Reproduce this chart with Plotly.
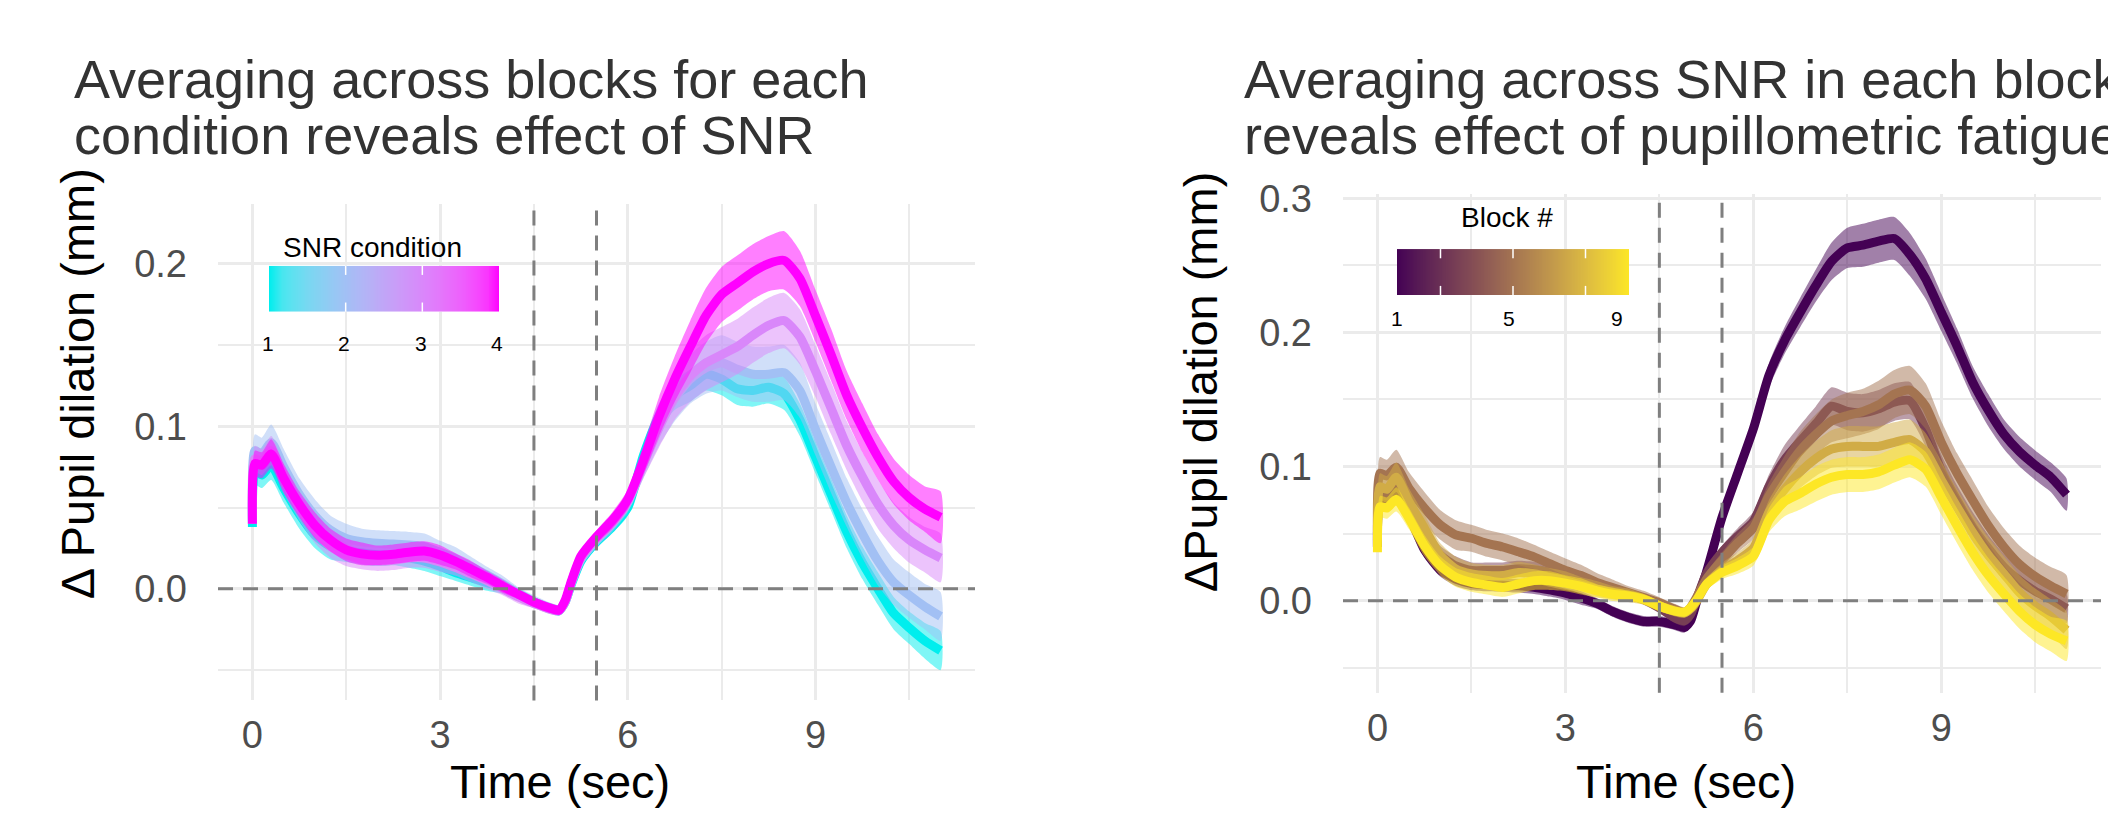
import numpy as np
import plotly.graph_objects as go

# ---------------- data ----------------
T = [0, 0.04, 0.15, 0.3, 0.5, 0.75, 1.0, 1.25, 1.5, 1.75, 2.0, 2.25, 2.5, 2.75, 3.0,
     3.25, 3.5, 3.75, 4.0, 4.25, 4.5, 4.75, 4.9, 5.0, 5.1, 5.25, 5.5, 5.75, 6.0, 6.25,
     6.5, 6.75, 7.0, 7.25, 7.5, 7.75, 8.0, 8.25, 8.5, 8.75, 9.0, 9.25, 9.5, 9.75, 10.0,
     10.25, 10.5, 10.75, 11.0]

# Left panel: SNR conditions (mean and half-width of ribbon)
snr_conditions = [1, 2, 3, 4]
snr1_mean = [0.038, 0.072, 0.070, 0.076, 0.062, 0.046, 0.033, 0.026, 0.0235, 0.022, 0.021, 0.0205, 0.019, 0.017, 0.0138,
             0.0098, 0.0068, 0.0038, 0.001, -0.0035, -0.008, -0.012, -0.0135, -0.008, 0.003, 0.017, 0.029, 0.038, 0.050, 0.082,
             0.106, 0.119, 0.125, 0.132, 0.129, 0.123, 0.122, 0.124, 0.120, 0.104, 0.081, 0.058, 0.035, 0.016, 0.000,
             -0.015, -0.024, -0.032, -0.038]
snr2_mean = [0.042, 0.085, 0.083, 0.090, 0.075, 0.058, 0.045, 0.036, 0.031, 0.029, 0.028, 0.0275, 0.027, 0.026, 0.0225,
             0.0185, 0.0135, 0.0085, 0.003, -0.003, -0.008, -0.0115, -0.013, -0.008, 0.004, 0.018, 0.030, 0.040, 0.053, 0.077,
             0.100, 0.117, 0.129, 0.136, 0.139, 0.135, 0.132, 0.132, 0.133, 0.122, 0.098, 0.075, 0.053, 0.034, 0.017,
             0.004, -0.004, -0.011, -0.017]
snr3_mean = [0.040, 0.080, 0.078, 0.085, 0.068, 0.050, 0.036, 0.026, 0.021, 0.018, 0.017, 0.0175, 0.019, 0.019, 0.0165,
             0.013, 0.009, 0.005, 0.000, -0.005, -0.009, -0.0125, -0.0135, -0.008, 0.004, 0.019, 0.031, 0.041, 0.054, 0.077,
             0.099, 0.118, 0.131, 0.139, 0.144, 0.149, 0.156, 0.162, 0.165, 0.155, 0.134, 0.111, 0.088, 0.069, 0.052,
             0.039, 0.030, 0.024, 0.019]
snr4_mean = [0.040, 0.077, 0.076, 0.083, 0.068, 0.052, 0.039, 0.030, 0.024, 0.0215, 0.0206, 0.0213, 0.0225, 0.0232, 0.0208,
             0.0168, 0.012, 0.0071, 0.0016, -0.0033, -0.0082, -0.0118, -0.0132, -0.007, 0.005, 0.020, 0.032, 0.042, 0.055, 0.079,
             0.106, 0.129, 0.149, 0.168, 0.181, 0.188, 0.195, 0.200, 0.202, 0.191, 0.168, 0.144, 0.119, 0.099, 0.081,
             0.066, 0.056, 0.049, 0.044]
snr1_se = [0.004, 0.008, 0.008, 0.009, 0.009, 0.009, 0.008, 0.008, 0.007, 0.007, 0.007, 0.006, 0.006, 0.006, 0.006,
           0.005, 0.005, 0.005, 0.004, 0.004, 0.003, 0.003, 0.003, 0.003, 0.003, 0.003, 0.004, 0.004, 0.005, 0.006,
           0.008, 0.009, 0.010, 0.010, 0.010, 0.010, 0.010, 0.010, 0.010, 0.010, 0.010, 0.010, 0.010, 0.010, 0.010,
           0.010, 0.010, 0.011, 0.012]
snr2_se = [0.005, 0.010, 0.010, 0.011, 0.011, 0.010, 0.010, 0.009, 0.009, 0.008, 0.008, 0.008, 0.008, 0.008, 0.007,
           0.007, 0.006, 0.005, 0.005, 0.004, 0.004, 0.003, 0.003, 0.003, 0.003, 0.003, 0.004, 0.005, 0.006, 0.009,
           0.012, 0.014, 0.015, 0.016, 0.017, 0.017, 0.017, 0.017, 0.017, 0.017, 0.016, 0.016, 0.015, 0.015, 0.015,
           0.014, 0.014, 0.014, 0.015]
snr3_se = [0.005, 0.008, 0.008, 0.009, 0.009, 0.008, 0.008, 0.007, 0.007, 0.006, 0.006, 0.006, 0.006, 0.006, 0.006,
           0.005, 0.005, 0.005, 0.004, 0.004, 0.003, 0.003, 0.003, 0.003, 0.003, 0.003, 0.004, 0.005, 0.006, 0.009,
           0.012, 0.014, 0.016, 0.017, 0.017, 0.017, 0.017, 0.017, 0.017, 0.017, 0.016, 0.016, 0.015, 0.015, 0.015,
           0.014, 0.014, 0.014, 0.015]
snr4_se = [0.005, 0.008, 0.008, 0.009, 0.009, 0.008, 0.008, 0.007, 0.007, 0.007, 0.006, 0.006, 0.006, 0.006, 0.006,
           0.005, 0.005, 0.004, 0.004, 0.003, 0.003, 0.003, 0.003, 0.003, 0.003, 0.003, 0.004, 0.005, 0.006, 0.009,
           0.012, 0.014, 0.016, 0.017, 0.017, 0.017, 0.017, 0.017, 0.018, 0.017, 0.016, 0.016, 0.015, 0.015, 0.014,
           0.014, 0.014, 0.014, 0.016]

# Right panel: blocks
blocks = [1, 3, 5, 7, 9]
blk1_mean = [0.040, 0.075, 0.074, 0.080, 0.064, 0.038, 0.023, 0.016, 0.0128, 0.012, 0.0115, 0.011, 0.010, 0.008, 0.0055,
             0.002, -0.002, -0.008, -0.0125, -0.0155, -0.0155, -0.018, -0.020, -0.015, 0.000, 0.021, 0.062, 0.095, 0.128, 0.168,
             0.194, 0.215, 0.235, 0.253, 0.263, 0.265, 0.268, 0.270, 0.258, 0.240, 0.215, 0.190, 0.163, 0.142, 0.124,
             0.111, 0.101, 0.092, 0.079]
blk3_mean = [0.040, 0.080, 0.078, 0.083, 0.069, 0.049, 0.034, 0.026, 0.0225, 0.0225, 0.0225, 0.0237, 0.023, 0.021, 0.0174,
             0.0136, 0.0098, 0.0073, 0.0048, 0.001, -0.0053, -0.0129, -0.015, -0.010, 0.002, 0.020, 0.036, 0.048, 0.059, 0.085,
             0.105, 0.119, 0.132, 0.145, 0.141, 0.140, 0.143, 0.148, 0.149, 0.128, 0.097, 0.075, 0.055, 0.039, 0.025,
             0.015, 0.007, 0.001, -0.006]
blk5_mean = [0.050, 0.095, 0.093, 0.0995, 0.084, 0.069, 0.0566, 0.049, 0.0465, 0.0427, 0.040, 0.0364, 0.0326, 0.0275, 0.0225,
             0.0187, 0.0136, 0.0098, 0.006, 0.0023, -0.0015, -0.0066, -0.009, -0.005, 0.003, 0.016, 0.030, 0.043, 0.054, 0.078,
             0.096, 0.112, 0.124, 0.134, 0.138, 0.141, 0.146, 0.154, 0.157, 0.145, 0.118, 0.095, 0.075, 0.056, 0.040,
             0.027, 0.018, 0.011, 0.005]
blk7_mean = [0.045, 0.085, 0.083, 0.092, 0.074, 0.054, 0.034, 0.0237, 0.020, 0.0187, 0.0187, 0.021, 0.020, 0.0174, 0.0149,
             0.0116, 0.0086, 0.006, 0.004, 0.001, -0.004, -0.0078, -0.009, -0.006, 0.000, 0.012, 0.023, 0.030, 0.039, 0.066,
             0.083, 0.096, 0.106, 0.113, 0.115, 0.115, 0.115, 0.118, 0.120, 0.111, 0.090, 0.070, 0.051, 0.034, 0.020,
             0.006, -0.004, -0.012, -0.022]
blk9_mean = [0.036, 0.070, 0.069, 0.0755, 0.0616, 0.041, 0.026, 0.0174, 0.0136, 0.0116, 0.0098, 0.0124, 0.0149, 0.0149, 0.013,
             0.0106, 0.0073, 0.0048, 0.0035, 0.001, -0.004, -0.0078, -0.0086, -0.005, 0.001, 0.012, 0.021, 0.026, 0.033, 0.060,
             0.074, 0.080, 0.087, 0.092, 0.094, 0.094, 0.096, 0.101, 0.105, 0.098, 0.077, 0.056, 0.036, 0.019, 0.005,
             -0.008, -0.018, -0.025, -0.030]
blk1_se = [0.004, 0.006, 0.006, 0.007, 0.006, 0.006, 0.005, 0.005, 0.005, 0.005, 0.005, 0.005, 0.005, 0.005, 0.005,
           0.005, 0.004, 0.004, 0.004, 0.004, 0.004, 0.004, 0.004, 0.004, 0.004, 0.005, 0.006, 0.007, 0.008, 0.009,
           0.010, 0.011, 0.012, 0.014, 0.015, 0.016, 0.016, 0.016, 0.016, 0.015, 0.014, 0.013, 0.012, 0.012, 0.011,
           0.011, 0.011, 0.011, 0.012]
blk3_se = [0.004, 0.008, 0.008, 0.009, 0.008, 0.008, 0.007, 0.007, 0.006, 0.006, 0.006, 0.006, 0.006, 0.006, 0.005,
           0.005, 0.005, 0.004, 0.004, 0.004, 0.004, 0.004, 0.004, 0.004, 0.004, 0.004, 0.005, 0.006, 0.007, 0.009,
           0.011, 0.012, 0.013, 0.014, 0.014, 0.014, 0.014, 0.014, 0.014, 0.013, 0.012, 0.011, 0.011, 0.010, 0.010,
           0.010, 0.010, 0.010, 0.011]
blk5_se = [0.006, 0.012, 0.012, 0.013, 0.012, 0.012, 0.011, 0.011, 0.010, 0.010, 0.010, 0.010, 0.009, 0.009, 0.009,
           0.008, 0.007, 0.006, 0.005, 0.005, 0.004, 0.004, 0.004, 0.004, 0.004, 0.005, 0.006, 0.007, 0.008, 0.010,
           0.012, 0.014, 0.015, 0.016, 0.017, 0.017, 0.018, 0.018, 0.018, 0.017, 0.016, 0.015, 0.015, 0.014, 0.014,
           0.014, 0.014, 0.014, 0.014]
blk7_se = [0.005, 0.010, 0.010, 0.011, 0.010, 0.010, 0.009, 0.009, 0.008, 0.008, 0.008, 0.008, 0.007, 0.007, 0.007,
           0.006, 0.006, 0.005, 0.005, 0.004, 0.004, 0.004, 0.004, 0.004, 0.004, 0.004, 0.005, 0.006, 0.007, 0.009,
           0.011, 0.012, 0.013, 0.014, 0.015, 0.015, 0.015, 0.015, 0.015, 0.014, 0.014, 0.013, 0.013, 0.013, 0.013,
           0.013, 0.013, 0.013, 0.014]
blk9_se = [0.004, 0.008, 0.008, 0.009, 0.008, 0.008, 0.007, 0.007, 0.007, 0.007, 0.007, 0.007, 0.007, 0.007, 0.006,
           0.006, 0.005, 0.005, 0.004, 0.004, 0.004, 0.003, 0.003, 0.003, 0.003, 0.004, 0.005, 0.006, 0.007, 0.009,
           0.011, 0.012, 0.013, 0.013, 0.013, 0.013, 0.013, 0.013, 0.013, 0.013, 0.013, 0.013, 0.013, 0.013, 0.013,
           0.013, 0.013, 0.013, 0.015]

x_ticks = [0, 3, 6, 9]
left_y_ticks = [0.0, 0.1, 0.2]
right_y_ticks = [0.0, 0.1, 0.2, 0.3]
snr_legend_labels = ["1", "2", "3", "4"]
block_legend_labels = ["1", "5", "9"]

left_series = [(1, snr1_mean, snr1_se), (2, snr2_mean, snr2_se), (3, snr3_mean, snr3_se), (4, snr4_mean, snr4_se)]
right_series = [(1, blk1_mean, blk1_se), (3, blk3_mean, blk3_se), (5, blk5_mean, blk5_se),
                (7, blk7_mean, blk7_se), (9, blk9_mean, blk9_se)]
for _, m, s in left_series + right_series:
    assert len(m) == len(T) and len(s) == len(T), (len(m), len(s))

# ---------------- colour helpers (Lab interpolation like ggplot) ----------------
def _hex_to_rgb(h):
    h = h.lstrip('#')
    return [int(h[i:i + 2], 16) / 255 for i in (0, 2, 4)]

def _to_lab(h):
    rgb = [c / 12.92 if c <= 0.04045 else ((c + 0.055) / 1.055) ** 2.4 for c in _hex_to_rgb(h)]
    r, g, b = rgb
    X = (0.4124 * r + 0.3576 * g + 0.1805 * b) / 0.95047
    Y = (0.2126 * r + 0.7152 * g + 0.0722 * b)
    Z = (0.0193 * r + 0.1192 * g + 0.9505 * b) / 1.08883
    f = lambda t: t ** (1 / 3) if t > (6 / 29) ** 3 else t / (3 * (6 / 29) ** 2) + 4 / 29
    return 116 * f(Y) - 16, 500 * (f(X) - f(Y)), 200 * (f(Y) - f(Z))

def _from_lab(L, a, b):
    fy = (L + 16) / 116
    fx, fz = fy + a / 500, fy - b / 200
    finv = lambda t: t ** 3 if t > 6 / 29 else 3 * (6 / 29) ** 2 * (t - 4 / 29)
    X, Y, Z = finv(fx) * 0.95047, finv(fy), finv(fz) * 1.08883
    r = 3.2406 * X - 1.5372 * Y - 0.4986 * Z
    g = -0.9689 * X + 1.8758 * Y + 0.0415 * Z
    bb = 0.0557 * X - 0.2040 * Y + 1.0570 * Z
    out = []
    for c in (r, g, bb):
        c = 12.92 * c if c <= 0.0031308 else 1.055 * c ** (1 / 2.4) - 0.055
        out.append(int(round(min(max(c, 0), 1) * 255)))
    return out

def lab_ramp(lo, hi, frac):
    l1, l2 = _to_lab(lo), _to_lab(hi)
    return _from_lab(*[p + (q - p) * frac for p, q in zip(l1, l2)])

def rgb_str(c, a=None):
    return f"rgb({c[0]},{c[1]},{c[2]})" if a is None else f"rgba({c[0]},{c[1]},{c[2]},{a})"

SNR_LOW, SNR_HIGH = "#00EEEE", "#FF00FF"
BLK_LOW, BLK_HIGH = "#440154", "#FDE725"

# ---------------- figure ----------------
W, H = 2108, 817
px = lambda x: x / W
py = lambda y: 1 - y / H
FONT = "Liberation Sans, Arial, Helvetica, sans-serif"

fig = go.Figure()

def add_series(series, lo, hi, vmin, vmax, xa, ya):
    for v, m, s in series:
        c = lab_ramp(lo, hi, (v - vmin) / (vmax - vmin))
        upper = [a + b for a, b in zip(m, s)]
        lower = [a - b for a, b in zip(m, s)]
        fig.add_trace(go.Scatter(x=T + T[::-1], y=upper + lower[::-1], fill='toself',
                                 fillcolor=rgb_str(c, 0.5), mode='lines',
                                 line=dict(width=0, shape='spline', smoothing=0.6),
                                 hoverinfo='skip', showlegend=False, xaxis=xa, yaxis=ya))
        fig.add_trace(go.Scatter(x=T, y=m, mode='lines',
                                 line=dict(color=rgb_str(c), width=9, shape='spline', smoothing=0.6),
                                 showlegend=False, xaxis=xa, yaxis=ya))

add_series(left_series, SNR_LOW, SNR_HIGH, 1, 4, 'x', 'y')
add_series(right_series, BLK_LOW, BLK_HIGH, 1, 9, 'x2', 'y2')

# gradient legends (heatmaps)
def colorscale(lo, hi, n=21):
    return [[i / (n - 1), rgb_str(lab_ramp(lo, hi, i / (n - 1)))] for i in range(n)]

gx1 = np.linspace(1, 4, 121)
fig.add_trace(go.Heatmap(x=gx1, y=[0, 1], z=[gx1, gx1], zmin=1, zmax=4, zsmooth='best',
                         colorscale=colorscale(SNR_LOW, SNR_HIGH), showscale=False,
                         hoverinfo='skip', xaxis='x3', yaxis='y3'))
gx2 = np.linspace(1, 9, 161)
fig.add_trace(go.Heatmap(x=gx2, y=[0, 1], z=[gx2, gx2], zmin=1, zmax=9, zsmooth='best',
                         colorscale=colorscale(BLK_LOW, BLK_HIGH), showscale=False,
                         hoverinfo='skip', xaxis='x4', yaxis='y4'))

GRID = '#EBEBEB'
TICKFONT = dict(family=FONT, size=38, color='#4D4D4D')

def xaxis(dom, anchor):
    return dict(domain=dom, range=[-0.55, 11.55], tickvals=x_ticks, ticktext=[str(v) for v in x_ticks],
                showgrid=True, gridcolor=GRID, gridwidth=3.2, zeroline=False, showline=False, ticks='',
                minor=dict(tickvals=[1.5, 4.5, 7.5, 10.5], showgrid=True, gridcolor=GRID, gridwidth=2),
                tickfont=TICKFONT, ticklabelstandoff=9, anchor=anchor, fixedrange=True)

def yaxis(dom, rng, ticks, minor, anchor):
    return dict(domain=dom, range=rng, tickvals=ticks, ticktext=[f"{v:.1f}" for v in ticks],
                showgrid=True, gridcolor=GRID, gridwidth=3.2, zeroline=False, showline=False, ticks='',
                minor=dict(tickvals=minor, showgrid=True, gridcolor=GRID, gridwidth=2),
                tickfont=TICKFONT, ticklabelstandoff=30, anchor=anchor, fixedrange=True)

hidden = dict(visible=False, fixedrange=True)

fig.update_layout(
    width=W, height=H, margin=dict(l=0, r=0, t=0, b=0),
    paper_bgcolor='white', plot_bgcolor='white', font=dict(family=FONT),
    xaxis=xaxis([px(218), px(975)], 'y'),
    yaxis=yaxis([py(698), py(191)], [-0.0687, 0.2367], left_y_ticks, [-0.05, 0.05, 0.15], 'x'),
    xaxis2=xaxis([px(1343), px(2101)], 'y2'),
    yaxis2=yaxis([py(690), py(181)], [-0.0686, 0.303], right_y_ticks, [-0.05, 0.05, 0.15, 0.25], 'x2'),
    xaxis3=dict(domain=[px(269), px(499)], range=[1, 4], anchor='y3', **hidden),
    yaxis3=dict(domain=[py(301), py(254)], range=[0, 1], anchor='x3', **hidden),
    xaxis4=dict(domain=[px(1397), px(1629)], range=[1, 9], anchor='y4', **hidden),
    yaxis4=dict(domain=[py(284), py(237)], range=[0, 1], anchor='x4', **hidden),
)

DASH = dict(color='#7F7F7F', width=3, dash='15px,10px')
shapes = []
for xa, ya in (('x', 'y'), ('x2', 'y2')):
    for xv in (4.5, 5.5):
        shapes.append(dict(type='line', xref=xa, yref=f'{ya} domain', x0=xv, x1=xv, y0=0, y1=1,
                           line=DASH, layer='above'))
    shapes.append(dict(type='line', xref=f'{xa} domain', yref=ya, x0=0, x1=1, y0=0, y1=0,
                       line=DASH, layer='above'))
# white tick marks on gradient legends
for xa, ya, vals in (('x3', 'y3', [2, 3]), ('x4', 'y4', [2.5, 5, 7.5])):
    for v in vals:
        for y0, y1 in ((0.0, 0.2), (0.8, 1.0)):
            shapes.append(dict(type='line', xref=xa, yref=f'{ya} domain', x0=v, x1=v, y0=y0, y1=y1,
                               line=dict(color='white', width=1.5), layer='above'))
fig.update_layout(shapes=shapes)

ann = []
def text(x, y, s, size, color='black', xanchor='center', angle=0):
    ann.append(dict(x=px(x), y=py(y), xref='paper', yref='paper', text=s, showarrow=False,
                    xanchor=xanchor, yanchor='middle', textangle=angle,
                    font=dict(family=FONT, size=size, color=color)))

TITLE_C = '#333333'
text(72, 63, "Averaging across blocks for each", 54, TITLE_C, 'left')
text(72, 121, "condition reveals effect of SNR", 54, TITLE_C, 'left')
text(1242, 63, "Averaging across SNR in each block", 54, TITLE_C, 'left')
text(1242, 121, "reveals effect of pupillometric fatigue", 54, TITLE_C, 'left')

text(560, 781, "Time (sec)", 47)
text(1686, 781, "Time (sec)", 47)
text(77, 375, "Δ Pupil dilation (mm)", 47, angle=-90)
text(1200, 373, "ΔPupil dilation (mm)", 47, angle=-90)

text(372, 235, "SNR condition", 28)
text(1507, 205, "Block #", 28)
for lab, xp in zip(snr_legend_labels, [268, 344, 421, 497]):
    text(xp, 333, lab, 21)
for lab, xp in zip(block_legend_labels, [1397, 1509, 1617]):
    text(xp, 308, lab, 21)
fig.update_layout(annotations=ann)

fig.write_html("out.html", config={'displayModeBar': False},
               post_script="document.body.style.margin='0';document.body.style.overflow='hidden';")
